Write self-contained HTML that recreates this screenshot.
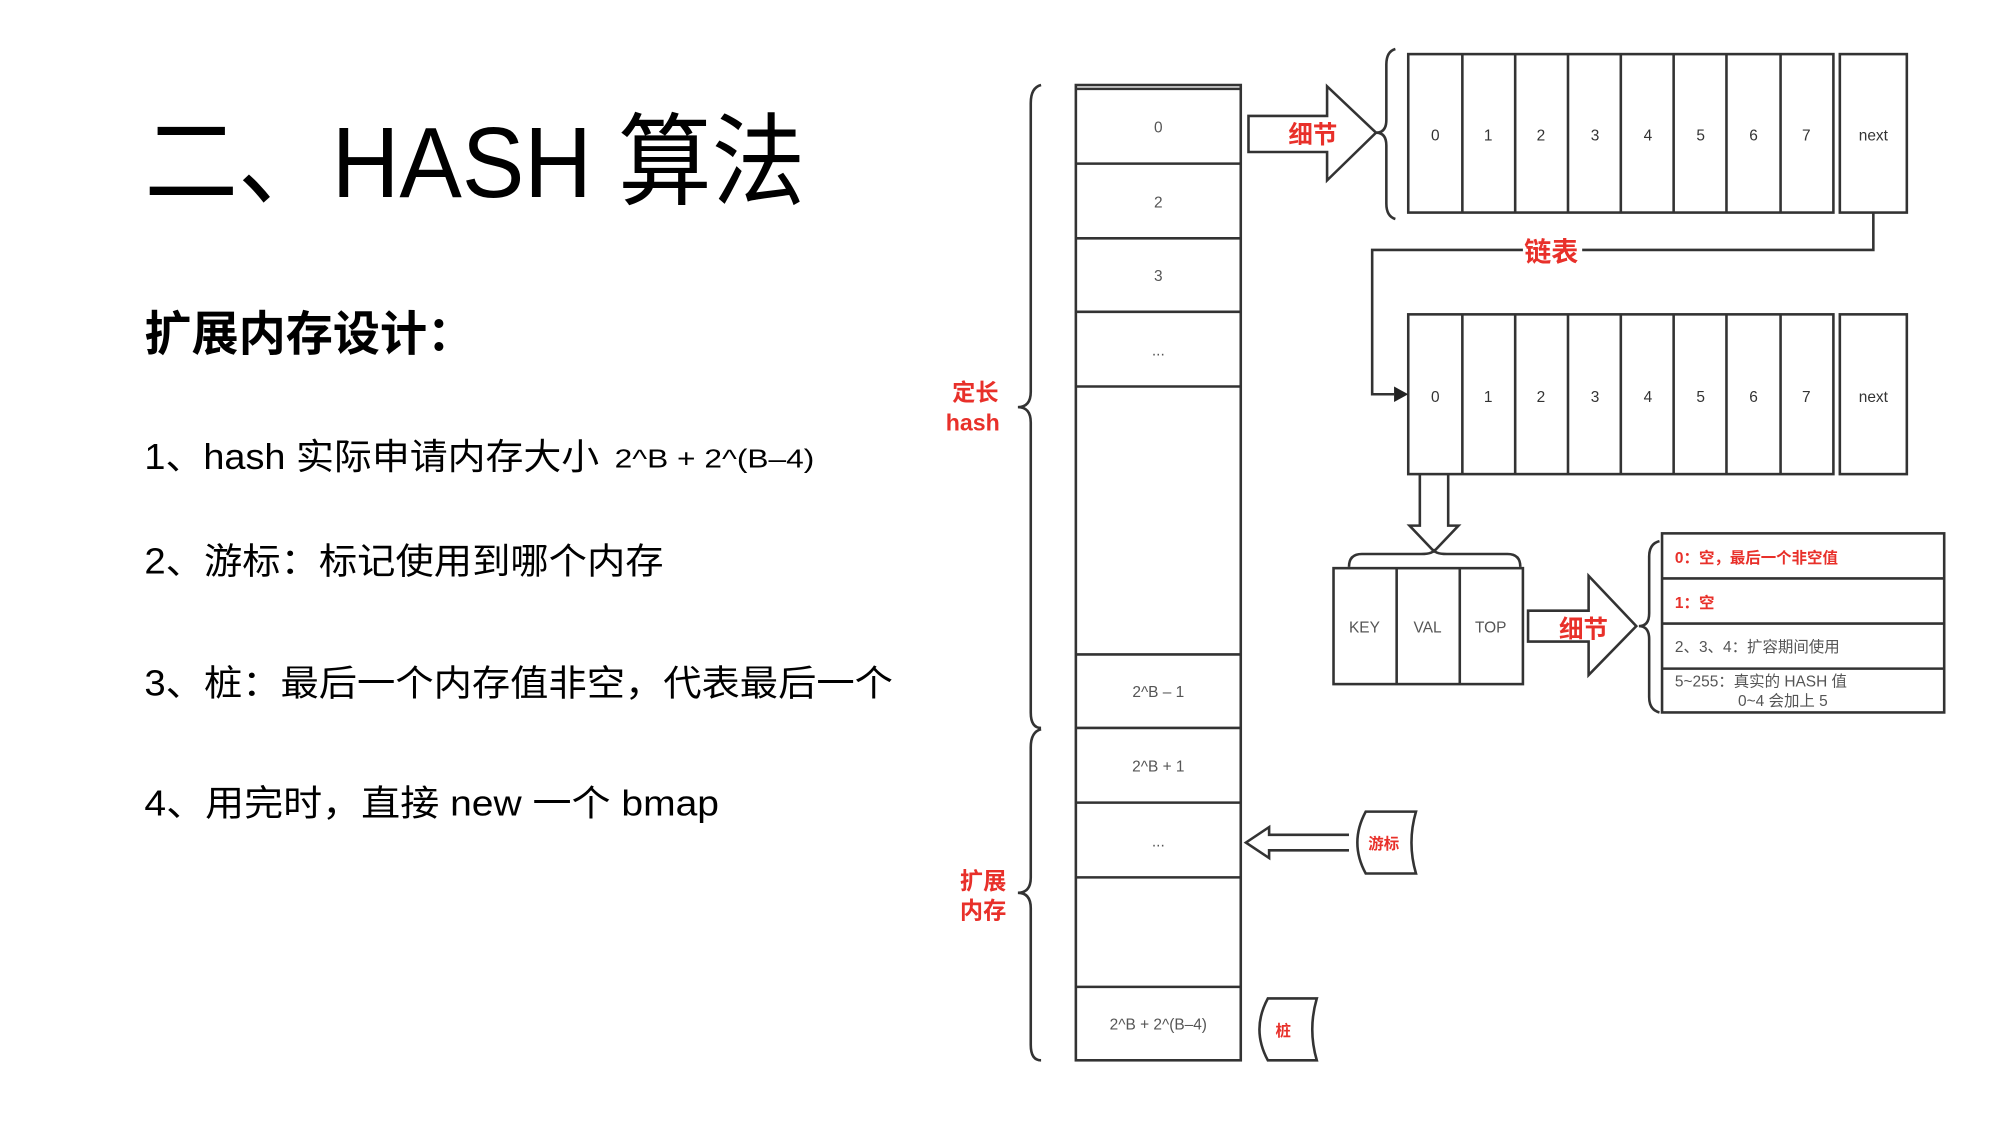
<!DOCTYPE html>
<html><head><meta charset="utf-8"><style>html,body{margin:0;padding:0;background:#fff}svg{display:block}</style></head><body>
<svg width="2010" height="1126" viewBox="0 0 1560 874" xmlns="http://www.w3.org/2000/svg" font-family="Liberation Sans, Noto Sans CJK SC, sans-serif">
<rect width="1560" height="874" fill="#fff"/>
<g fill="#000">
<text x="112" y="153" font-size="78" textLength="513" lengthAdjust="spacingAndGlyphs">二、HASH 算法</text>
<text x="112" y="272" font-size="37" font-weight="bold" textLength="256" lengthAdjust="spacingAndGlyphs">扩展内存设计：</text>
<text x="112" y="364" font-size="28" textLength="353" lengthAdjust="spacingAndGlyphs">1、hash 实际申请内存大小</text>
<text x="477" y="363" font-size="20" textLength="155" lengthAdjust="spacingAndGlyphs">2^B + 2^(B–4)</text>
<text x="112" y="445" font-size="28" textLength="403" lengthAdjust="spacingAndGlyphs">2、游标：标记使用到哪个内存</text>
<text x="112" y="540" font-size="28" textLength="581" lengthAdjust="spacingAndGlyphs">3、桩：最后一个内存值非空，代表最后一个</text>
<text x="112" y="633" font-size="28" textLength="446" lengthAdjust="spacingAndGlyphs">4、用完时，直接 new 一个 bmap</text>
</g>
<g stroke="#333" stroke-width="2" fill="none">
<!-- column -->
<rect x="835" y="66" width="128" height="757"/>
<line x1="835" y1="69" x2="963" y2="69"/>
<line x1="835" y1="127" x2="963" y2="127"/><line x1="835" y1="185" x2="963" y2="185"/>
<line x1="835" y1="242" x2="963" y2="242"/><line x1="835" y1="300" x2="963" y2="300"/>
<line x1="835" y1="508" x2="963" y2="508"/><line x1="835" y1="565" x2="963" y2="565"/>
<line x1="835" y1="623" x2="963" y2="623"/><line x1="835" y1="681" x2="963" y2="681"/>
<line x1="835" y1="766" x2="963" y2="766"/>
<!-- left braces -->
<path d="M808 66 Q800 68 800 80 L800 304 Q800 316 790 316 Q800 316 800 328 L800 553 Q800 565 808 565"/>
<path d="M808 566 Q800 568 800 580 L800 681 Q800 693 790 693 Q800 693 800 705 L800 811 Q800 823 808 823"/>
<!-- top arrow -->
<path d="M969 90 L1030 90 L1030 67 L1068 103 L1030 140 L1030 118 L969 118 Z"/>
<path d="M1083 38 Q1076 40 1076 50 L1076 93 Q1076 103 1068 103 Q1076 103 1076 113 L1076 158 Q1076 168 1083 170"/>
<!-- arrays -->
<rect x="1093" y="42" width="330" height="123"/>
<rect x="1428" y="42" width="52" height="123"/>
<rect x="1093" y="244" width="330" height="124"/>
<rect x="1428" y="244" width="52" height="124"/>
<path d="M1135 42V165M1176 42V165M1217 42V165M1258 42V165M1299 42V165M1340 42V165M1382 42V165"/>
<path d="M1135 244V368M1176 244V368M1217 244V368M1258 244V368M1299 244V368M1340 244V368M1382 244V368"/>
<path d="M1454 165 L1454 194 L1065 194 L1065 306 L1082 306"/>
<!-- down arrow -->
<path d="M1102 368 L1102 408 L1094 408 L1113 428 L1132 408 L1124 408 L1124 368"/>
<path d="M1047 440 Q1047 430 1057 430 L1103 430 Q1113 430 1113 426 Q1113 430 1123 430 L1170 430 Q1180 430 1180 440"/>
<rect x="1035" y="441" width="147" height="90"/>
<path d="M1084 441V531M1133 441V531"/>
<path d="M1186 474 L1233 474 L1233 447 L1270 486 L1233 524 L1233 498 L1186 498 Z"/>
<path d="M1288 420 Q1280 422 1280 432 L1280 476 Q1280 486 1272 486 Q1280 486 1280 496 L1280 541 Q1280 551 1288 553"/>
<rect x="1290" y="414" width="219" height="139"/>
<path d="M1290 449H1509M1290 484H1509M1290 519H1509"/>
<!-- cursor -->
<path d="M1047 648 L985 648 L985 642 L967 654 L985 666 L985 660 L1047 660"/>
<path d="M1060 630 L1099 630 Q1092 654 1099 678 L1060 678 Q1047 654 1060 630 Z"/>
<path d="M984 775 L1022 775 Q1015 799 1022 823 L984 823 Q971 799 984 775 Z"/>
</g>
<path d="M1082 300 L1093 306 L1082 312 Z" fill="#222"/>
<g fill="#555" font-size="12" text-anchor="middle">
<text x="899" y="103">0</text><text x="899" y="161">2</text><text x="899" y="218">3</text><text x="899" y="276">...</text>
<text x="899" y="541">2^B – 1</text><text x="899" y="599">2^B + 1</text><text x="899" y="657">...</text>
<text x="899" y="799">2^B + 2^(B–4)</text>
</g>
<g fill="#333" font-size="12" text-anchor="middle">
<text x="1114" y="109">0</text><text x="1155" y="109">1</text><text x="1196" y="109">2</text><text x="1238" y="109">3</text><text x="1279" y="109">4</text><text x="1320" y="109">5</text><text x="1361" y="109">6</text><text x="1402" y="109">7</text><text x="1454" y="109">next</text>
<text x="1114" y="312">0</text><text x="1155" y="312">1</text><text x="1196" y="312">2</text><text x="1238" y="312">3</text><text x="1279" y="312">4</text><text x="1320" y="312">5</text><text x="1361" y="312">6</text><text x="1402" y="312">7</text><text x="1454" y="312">next</text>
<text x="1059" y="491" fill="#555">KEY</text><text x="1108" y="491" fill="#555">VAL</text><text x="1157" y="491" fill="#555">TOP</text>
</g>
<g fill="#555" font-size="12">
<text x="1300" y="506">2、3、4：扩容期间使用</text>
<text x="1300" y="533">5~255：真实的 HASH 值</text>
<text x="1349" y="548">0~4 会加上 5</text>
</g>
<g fill="#e8302a" font-weight="bold">
<text x="1300" y="437" font-size="12">0：空，最后一个非空值</text>
<text x="1300" y="472" font-size="12">1：空</text>
<text x="1000" y="111" font-size="19">细节</text>
<text x="1210" y="495" font-size="19">细节</text>
<rect x="1182" y="184" width="46" height="22" fill="#fff"/>
<text x="1183" y="203" font-size="21">链表</text>
<text x="739" y="311" font-size="18">定长</text>
<text x="734" y="334" font-size="18">hash</text>
<text x="745" y="690" font-size="18">扩展</text>
<text x="745" y="713" font-size="18">内存</text>
<text x="1062" y="659" font-size="12">游标</text>
<text x="990" y="804" font-size="12">桩</text>
</g>
</svg>
</body></html>
